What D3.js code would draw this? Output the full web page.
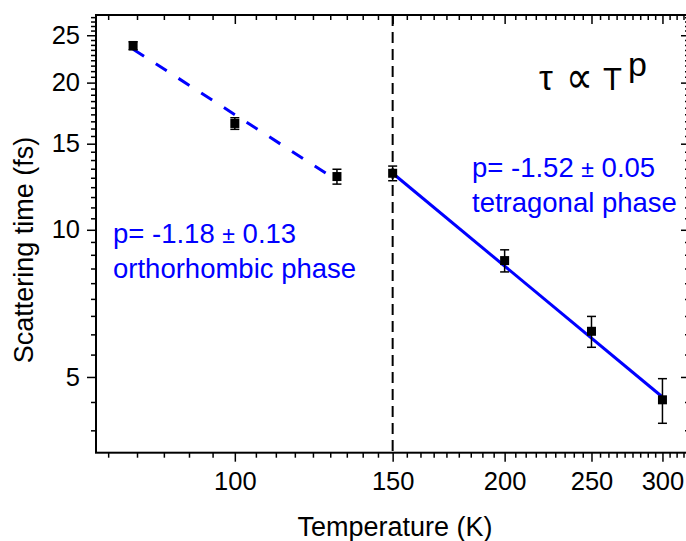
<!DOCTYPE html>
<html>
<head>
<meta charset="utf-8">
<script src="https://cdn.jsdelivr.net/npm/d3@7/dist/d3.min.js"></script>
<style>
  html, body { margin: 0; padding: 0; background: #fff; }
  svg { display: block; }
  text { font-family: "Liberation Sans", Arial, Helvetica, sans-serif; }
</style>
</head>
<body>
<svg id="chart" width="686" height="541"></svg>
<script>
// Scattering time vs temperature, log-log
const temperatures = [77, 100, 130, 150, 200, 250, 300];
const scatteringTime = [23.8, 16.5, 12.85, 13.05, 8.65, 6.2, 4.49];
const scatteringErr = [0.45, 0.45, 0.45, 0.45, 0.45, 0.45, 0.47];

const xTickValues = [100, 150, 200, 250, 300];
const yTickValues = [5, 10, 15, 20, 25];

// Power-law fits tau ∝ T^p for each phase
const fitPhase = ["orthorhombic phase", "tetragonal phase"];
const fitExponent = [-1.18, -1.52];
const fitExponentErr = [0.13, 0.05];
const fitRefT = [100, 150];
const fitRefTau = [17.2, 13.05];
const fitTStart = [77, 150];
const fitTEnd = [130, 300];

const transitionT = 150;

const svg = d3.select("#chart");
const plotLeft = 96, plotRight = 690, plotTop = 15, plotBottom = 452.7;

const x = d3.scaleLog().domain([70, 322]).range([plotLeft, plotRight]);
const y = d3.scaleLog().domain([3.5, 27.5]).range([plotBottom, plotTop]);

// minor ticks: eight per major interval
function minorTicks(domain, step, majors) {
  const out = [];
  const start = Math.ceil(domain[0] / step - 1e-9) * step;
  for (let v = start; v <= domain[1] + 1e-9; v += step) {
    if (!majors.some(m => Math.abs(m - v) < 1e-6)) out.push(v);
  }
  return out;
}
const xMinor = minorTicks([72, 322], 50 / 9, xTickValues.concat([50]));
const yMinor = minorTicks([3.5, 27.5], 5 / 9, yTickValues.concat([30]));

const tickFont = "25.5px";

function styleAxis(g) {
  g.selectAll("path.domain").remove();
  g.selectAll(".tick line").attr("stroke", "#000").attr("stroke-width", 1.5);
  g.selectAll(".tick text").attr("fill", "#000").style("font-size", tickFont)
    .style("font-family", "'Liberation Sans', Arial, sans-serif");
}

// bottom axis (outward ticks)
svg.append("g").attr("transform", `translate(0,${plotBottom})`)
  .call(d3.axisBottom(x).tickValues(xMinor).tickSize(5).tickFormat(""))
  .call(styleAxis);
svg.append("g").attr("transform", `translate(0,${plotBottom})`)
  .call(d3.axisBottom(x).tickValues(xTickValues).tickSize(9).tickPadding(10).tickFormat(d3.format("d")))
  .call(styleAxis);

// top axis (inward ticks)
svg.append("g").attr("transform", `translate(0,${plotTop})`)
  .call(d3.axisBottom(x).tickValues(xMinor).tickSize(5).tickFormat(""))
  .call(styleAxis);
svg.append("g").attr("transform", `translate(0,${plotTop})`)
  .call(d3.axisBottom(x).tickValues(xTickValues).tickSize(9).tickFormat(""))
  .call(styleAxis);

// left axis (outward ticks)
svg.append("g").attr("transform", `translate(${plotLeft},0)`)
  .call(d3.axisLeft(y).tickValues(yMinor).tickSize(5).tickFormat(""))
  .call(styleAxis);
svg.append("g").attr("transform", `translate(${plotLeft},0)`)
  .call(d3.axisLeft(y).tickValues(yTickValues).tickSize(9).tickPadding(7).tickFormat(d3.format("d")))
  .call(styleAxis);

// right axis (inward ticks)
svg.append("g").attr("transform", `translate(${plotRight},0)`)
  .call(d3.axisLeft(y).tickValues(yMinor).tickSize(5).tickFormat(""))
  .call(styleAxis);
svg.append("g").attr("transform", `translate(${plotRight},0)`)
  .call(d3.axisLeft(y).tickValues(yTickValues).tickSize(9).tickFormat(""))
  .call(styleAxis);

// frame
svg.append("rect")
  .attr("x", plotLeft).attr("y", plotTop)
  .attr("width", plotRight - plotLeft).attr("height", plotBottom - plotTop)
  .attr("fill", "none").attr("stroke", "#000").attr("stroke-width", 2);

// phase transition marker
svg.append("line")
  .attr("x1", x(transitionT)).attr("x2", x(transitionT))
  .attr("y1", plotTop).attr("y2", plotBottom)
  .attr("stroke", "#000").attr("stroke-width", 2)
  .attr("stroke-dasharray", "11,6");

// fit lines
const line = d3.line().x(d => x(d[0])).y(d => y(d[1]));
fitPhase.forEach((ph, i) => {
  const f = t => fitRefTau[i] * Math.pow(t / fitRefT[i], fitExponent[i]);
  const pts = [fitTStart[i], fitTEnd[i]].map(t => [t, f(t)]);
  svg.append("path")
    .attr("d", line(pts))
    .attr("fill", "none")
    .attr("stroke", "#0000ff")
    .attr("stroke-width", 3)
    .attr("stroke-dasharray", i === 0 ? "13,14" : null);
});

// error bars
const capHalf = 4.5;
const eb = svg.append("g").attr("stroke", "#000").attr("stroke-width", 1.5);
temperatures.forEach((t, i) => {
  const cx = x(t);
  const y1 = y(scatteringTime[i] + scatteringErr[i]);
  const y2 = y(scatteringTime[i] - scatteringErr[i]);
  eb.append("line").attr("x1", cx).attr("x2", cx).attr("y1", y1).attr("y2", y2);
  eb.append("line").attr("x1", cx - capHalf).attr("x2", cx + capHalf).attr("y1", y1).attr("y2", y1);
  eb.append("line").attr("x1", cx - capHalf).attr("x2", cx + capHalf).attr("y1", y2).attr("y2", y2);
});

// markers
const ms = 9;
svg.append("g").selectAll("rect")
  .data(temperatures)
  .join("rect")
  .attr("x", d => x(d) - ms / 2)
  .attr("y", (d, i) => y(scatteringTime[i]) - ms / 2)
  .attr("width", ms).attr("height", ms)
  .attr("fill", "#000");

// axis titles
svg.append("text")
  .attr("x", 395).attr("y", 536)
  .attr("text-anchor", "middle")
  .style("font-size", "27px")
  .text("Temperature (K)");

svg.append("text")
  .attr("transform", "translate(33,250) rotate(-90)")
  .attr("text-anchor", "middle")
  .style("font-size", "27px")
  .text("Scattering time (fs)");

// power-law annotation
const law = svg.append("g").attr("fill", "#000");
law.append("text").attr("x", 539).attr("y", 90).style("font-size", "35px").text("τ");
law.append("text").attr("x", 566).attr("y", 93).style("font-size", "46px")
  .style("font-family", "'DejaVu Sans', sans-serif")
  .attr("textLength", 27).attr("lengthAdjust", "spacingAndGlyphs").text("∝");
law.append("text").attr("x", 603).attr("y", 90).style("font-size", "31px").text("T");
law.append("text").attr("x", 628).attr("y", 76).style("font-size", "34px").text("p");

// fit annotations
const annPos = [[113, 243], [472, 177]];
fitPhase.forEach((ph, i) => {
  const t = svg.append("text")
    .attr("x", annPos[i][0]).attr("y", annPos[i][1])
    .attr("fill", "#0000ff")
    .style("font-size", "27.5px");
  t.append("tspan").text(`p= ${fitExponent[i].toFixed(2)} `);
  t.append("tspan").style("font-size", "23px").text("±");
  t.append("tspan").text(` ${fitExponentErr[i].toFixed(2)}`);
  svg.append("text")
    .attr("x", annPos[i][0]).attr("y", annPos[i][1] + 34.5)
    .attr("fill", "#0000ff")
    .style("font-size", "27.5px")
    .text(ph);
});
</script>
</body>
</html>
